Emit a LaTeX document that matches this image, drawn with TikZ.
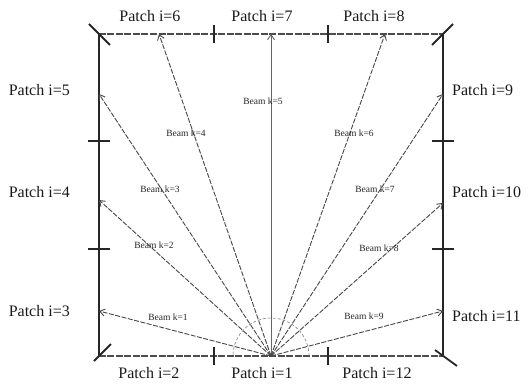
\documentclass[tikz,border=0pt]{standalone}
\usepackage{fontspec}
\setmainfont{Liberation Serif}
\usetikzlibrary{arrows.meta,calc}

\begin{document}
\begin{tikzpicture}[
  x=1pt, y=1pt,
  side/.style={line width=2.4pt,draw=black!85},
  edge/.style={line width=1.7pt,draw=black!70,dash pattern=on 7pt off 1.5pt},
  tick/.style={line width=1.8pt,draw=black!85},
  beam/.style={-{Straight Barb[length=5pt,width=7pt]},line width=.9pt,
               draw=black!72,dash pattern=on 5pt off 1.5pt},
  sweep/.style={line width=.7pt,draw=black!45,dash pattern=on 3pt off 2pt},
  patch/.style={font=\fontsize{16}{18}\selectfont,inner sep=0pt,text=black!90},
  lbl/.style={font=\fontsize{9.5}{11}\selectfont,inner sep=0pt,text=black!85}]

\useasboundingbox (-271,-29) rectangle (258,356);

\coordinate (O)  at (0,0);
\coordinate (bl) at (-172,0);
\coordinate (br) at (172,0);
\coordinate (tl) at (-172,322);
\coordinate (tr) at (172,322);

% the cell: two walls, floor and ceiling
\draw[edge] (bl) -- (br);
\draw[edge] (tl) -- (tr);
\draw[side] (bl) -- (tl);
\draw[side] (br) -- (tr);

% patch borders
\draw[tick] (-57,-9) -- (-57,9);
\draw[tick] (57,-9) -- (57,9);
\draw[tick] (-57,313) -- (-57,331);
\draw[tick] (57,313) -- (57,331);
\draw[tick] (-183,107) -- (-161,107);
\draw[tick] (-183,215) -- (-161,215);
\draw[tick] (161,107) -- (183,107);
\draw[tick] (161,215) -- (183,215);
\draw[tick] ($(tl)+(-10,10)$) -- ($(tl)+(11,-11)$);
\draw[tick] ($(tr)+(10,10)$) -- ($(tr)+(-11,-11)$);
\draw[tick] ($(bl)+(-5,-5)$) -- ($(bl)+(12,12)$);
\draw[tick] ($(br)+(14,-10)$) -- ($(br)+(-8,6)$);

\draw[sweep] ([xshift=38pt]O) arc[start angle=0,end angle=180,radius=38];

% beam end points
\coordinate (t1) at (-172,45);
\coordinate (t2) at (-172,156);
\coordinate (t3) at (-172,262);
\coordinate (t4) at (-112,322);
\coordinate (t5) at (0,322);
\coordinate (t6) at (114,322);
\coordinate (t7) at (172,262);
\coordinate (t8) at (172,153);
\coordinate (t9) at (172,45);

\draw[beam] (O) -- (t1);
\draw[beam] (O) -- (t2);
\draw[beam] (O) -- (t3);
\draw[beam] (O) -- (t4);
\draw[beam,solid,draw=black!60] (O) -- (t5);
\draw[beam] (O) -- (t6);
\draw[beam] (O) -- (t7);
\draw[beam] (O) -- (t8);
\draw[beam] (O) -- (t9);

\node[lbl] (b1) at (-103,39)  {Beam k=1};
\node[lbl] (b2) at (-117,111) {Beam k=2};
\node[lbl] (b3) at (-111,167) {Beam k=3};
\node[lbl] (b4) at (-85,223)  {Beam k=4};
\node[lbl] (b5) at (-8,255)   {Beam k=5};
\node[lbl] (b6) at (83,223)   {Beam k=6};
\node[lbl] (b7) at (104,167)  {Beam k=7};
\node[lbl] (b8) at (108,108)  {Beam k=8};
\node[lbl] (b9) at (93,40)    {Beam k=9};

\node[patch] (p1)  at (-9,-17)   {Patch i=1};
\node[patch] (p2)  at (-122,-17) {Patch i=2};
\node[patch] (p12) at (106,-17)  {Patch i=12};
\node[patch,anchor=east] (p3) at (-201,45)  {Patch i=3};
\node[patch,anchor=east] (p4) at (-201,164) {Patch i=4};
\node[patch,anchor=east] (p5) at (-201,266) {Patch i=5};
\node[patch] (p6) at (-121,340) {Patch i=6};
\node[patch] (p7) at (-9,340)   {Patch i=7};
\node[patch] (p8) at (103,340)  {Patch i=8};
\node[patch,anchor=west] (p9)  at (181,266) {Patch i=9};
\node[patch,anchor=west] (p10) at (181,164) {Patch i=10};
\node[patch,anchor=west] (p11) at (181,40)  {Patch i=11};
\end{tikzpicture}
\end{document}
